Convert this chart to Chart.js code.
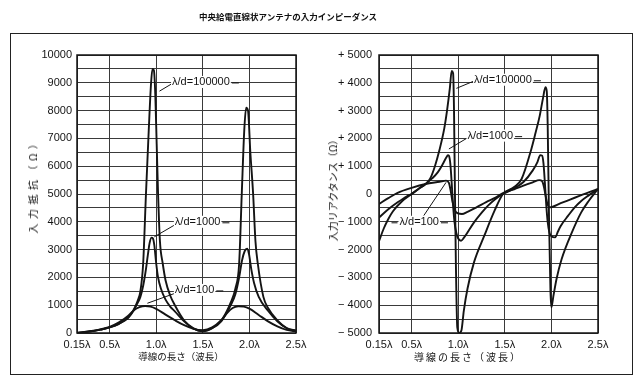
<!DOCTYPE html>
<html>
<head>
<meta charset="utf-8">
<title>中央給電直線状アンテナの入力インピーダンス</title>
<script src="https://cdn.jsdelivr.net/npm/chart.js"></script>
<style>
  body { margin: 0; background: #fff; }
  #page { position: relative; width: 640px; height: 387px; overflow: hidden; color: #111;
          font-family: 'Noto Sans CJK JP', sans-serif; }
  #frame { position: absolute; left: 10px; top: 33px; width: 623px; height: 342px;
           border: 1.5px solid #222; box-sizing: border-box; }
  canvas { position: absolute; top: 0; }
  .t { position: absolute; white-space: nowrap; line-height: 1; }
  .rot { transform: translate(-50%, -50%) rotate(-90deg); }
  .mid { transform: translate(-50%, -50%); }
</style>
</head>
<body>
<div id="page">
  <div id="frame"></div>
  <canvas id="resChart" width="320" height="387" style="left:0"></canvas>
  <canvas id="reactChart" width="320" height="387" style="left:320px"></canvas>

  <div class="t mid" style="left:288px; top:16px; font-size:8.5px; font-weight:bold;">中央給電直線状アンテナの入力インピーダンス</div>
  <div class="t rot" style="left:33px; top:184px; font-size:10px; letter-spacing:4.5px;">入力抵抗（Ω）</div>
  <div class="t rot" style="left:333px; top:188px; font-size:10px;">入力リアクタンス（Ω）</div>
  <div class="t mid" style="left:181px; top:357px; font-size:9.5px;">導線の長さ（波長）</div>
  <div class="t mid" style="left:468px; top:357px; font-size:10px; letter-spacing:2px;">導線の長さ（波長）</div>
</div>

<script>
  // x axis: wire length in wavelengths
  const lambdaTicks = [0.15, 0.5, 1.0, 1.5, 2.0, 2.5];
  const lambdaLabels = ['0.15λ', '0.5λ', '1.0λ', '1.5λ', '2.0λ', '2.5λ'];

  // left chart: input resistance (Ω)
  const resTicks = [0, 1000, 2000, 3000, 4000, 5000, 6000, 7000, 8000, 9000, 10000];
  const resLabels = ['0', '1000', '2000', '3000', '4000', '5000', '6000', '7000', '8000', '9000', '10000'];

  const res100000X = [0.15, 0.3, 0.4, 0.5, 0.6, 0.7, 0.76, 0.8, 0.83, 0.86, 0.89, 0.92, 0.945, 0.96, 0.975, 0.99, 1.005, 1.02, 1.04, 1.07, 1.1, 1.15, 1.2, 1.3, 1.4, 1.5,
                      1.6, 1.7, 1.76, 1.8, 1.85, 1.89, 1.918, 1.945, 1.965, 1.985, 2.01, 2.04, 2.065, 2.09, 2.15, 2.2, 2.3, 2.4, 2.5];
  const res100000Y = [0, 60, 120, 200, 330, 560, 850, 1150, 1500, 2500, 5000, 7300, 9000, 9500, 9450, 8600, 6800, 5000, 3300, 2500, 1900, 1350, 1000, 450, 170, 60,
                      170, 450, 800, 1100, 1600, 2500, 5000, 7300, 8100, 8000, 6500, 5000, 3300, 2500, 1300, 900, 450, 180, 80];

  const res1000X = [0.15, 0.3, 0.4, 0.5, 0.6, 0.7, 0.76, 0.8, 0.83, 0.86, 0.89, 0.91, 0.93, 0.95, 0.965, 0.98, 1.0, 1.02, 1.05, 1.1, 1.15, 1.2, 1.3, 1.4, 1.5,
                    1.6, 1.7, 1.8, 1.85, 1.89, 1.92, 1.95, 1.975, 1.995, 2.02, 2.05, 2.1, 2.2, 2.3, 2.4, 2.5];
  const res1000Y = [0, 60, 120, 200, 330, 550, 820, 1080, 1300, 1700, 2300, 2800, 3250, 3430, 3400, 3150, 2500, 2000, 1600, 1200, 950, 780, 420, 160, 70,
                    170, 430, 1000, 1400, 2000, 2600, 2950, 3030, 2850, 2300, 1800, 1300, 800, 420, 170, 80];

  const res100X = [0.15, 0.3, 0.4, 0.5, 0.6, 0.7, 0.76, 0.82, 0.88, 0.94, 1.0, 1.1, 1.2, 1.3, 1.4, 1.5,
                   1.6, 1.7, 1.76, 1.82, 1.88, 1.94, 2.0, 2.1, 2.2, 2.3, 2.4, 2.5];
  const res100Y = [0, 70, 130, 220, 380, 620, 820, 930, 970, 950, 870, 660, 460, 280, 150, 100,
                   200, 470, 720, 900, 960, 950, 880, 650, 420, 240, 110, 50];

  // right chart: input reactance (Ω)
  const reactTicks = [-5000, -4000, -3000, -2000, -1000, 0, 1000, 2000, 3000, 4000, 5000];
  const reactLabels = ['− 5000', '− 4000', '− 3000', '− 2000', '− 1000', '0', '+ 1000', '+ 2000', '+ 3000', '+ 4000', '+ 5000'];

  const react100000X = [0.15, 0.2, 0.25, 0.3, 0.4, 0.5, 0.58, 0.65, 0.7, 0.75, 0.8, 0.85, 0.88, 0.91, 0.93, 0.945, 0.955, 0.965, 0.975, 0.99, 1.01, 1.035, 1.06, 1.1, 1.17, 1.28, 1.39, 1.48,
                        1.6, 1.68, 1.785, 1.83, 1.875, 1.91, 1.936, 1.95, 1.96, 1.975, 1.99, 2.0, 2.02, 2.055, 2.11, 2.22, 2.32, 2.4, 2.5];
  const react100000Y = [-1700, -1250, -900, -620, -250, 0, 200, 360, 560, 1000, 1600, 2350, 3000, 3800, 4430, 4350, 3000, 0, -2500, -4800, -5000, -4900, -4200, -3400, -2450, -1500, -600, 0,
                        250, 540, 1620, 2200, 2820, 3450, 3840, 3700, 2500, -1000, -3500, -4080, -3700, -3060, -2340, -1380, -660, -250, 180];

  const react1000X = [0.15, 0.25, 0.35, 0.45, 0.5, 0.58, 0.65, 0.72, 0.78, 0.83, 0.87, 0.89, 0.9, 0.915, 0.93, 0.945, 0.96, 0.98, 1.0, 1.03, 1.06, 1.17, 1.25, 1.32, 1.4, 1.48,
                      1.6, 1.7, 1.8, 1.85, 1.88, 1.9, 1.915, 1.93, 1.945, 1.96, 1.98, 2.0, 2.04, 2.07, 2.1, 2.18, 2.25, 2.32, 2.4, 2.5];
  const react1000Y = [-850, -550, -300, -80, 0, 200, 360, 560, 780, 1050, 1300, 1400, 1380, 1100, 400, -400, -1000, -1400, -1600, -1680, -1580, -1020, -680, -420, -180, 0,
                      200, 430, 850, 1150, 1400, 1380, 1100, 400, -400, -1000, -1400, -1520, -1560, -1350, -1150, -780, -480, -250, -50, 180];

  const react100X = [0.15, 0.25, 0.35, 0.5, 0.65, 0.8, 0.87, 0.9, 0.92, 0.94, 0.97, 1.0, 1.04, 1.1, 1.2, 1.3, 1.4, 1.48,
                     1.6, 1.7, 1.8, 1.87, 1.9, 1.92, 1.94, 1.96, 1.98, 2.1, 2.2, 2.3, 2.4, 2.5];
  const react100Y = [-360, -150, 40, 220, 360, 440, 480, 400, 100, -300, -620, -700, -720, -640, -470, -290, -130, 30,
                     170, 300, 420, 500, 460, 250, -100, -380, -480, -330, -200, -70, 60, 180];

  // curve labels: text position and leader line, in data units (λ, Ω)
  const resNotes = [
    { text: 'λ/d=100000', tx: 1.17, ty: 9030, x1: 1.035, y1: 8700, x2: 1.165, y2: 8960, after: true },
    { text: 'λ/d=1000', tx: 1.2, ty: 4000, x1: 0.98, y1: 3460, x2: 1.195, y2: 3880, after: true },
    { text: 'λ/d=100', tx: 1.2, ty: 1550, x1: 0.905, y1: 1070, x2: 1.195, y2: 1420, after: true }
  ];
  const reactNotes = [
    { text: 'λ/d=100000', tx: 1.17, ty: 4110, x1: 0.98, y1: 3800, x2: 1.16, y2: 4050, after: true },
    { text: 'λ/d=1000', tx: 1.1, ty: 2100, x1: 0.9, y1: 1620, x2: 1.09, y2: 2000, after: true },
    { text: 'λ/d=100', tx: 0.37, ty: -1000, x1: 0.87, y1: 420, x2: 0.63, y2: -780, after: true, before: true }
  ];

  const ink = '#141414';
  const numFont = { family: "'Liberation Sans', 'Noto Sans', sans-serif", size: 11 };

  function series(xs, ys) {
    return {
      data: xs.map((x, i) => ({ x: x, y: ys[i] })),
      borderColor: ink,
      borderWidth: 1.9,
      pointRadius: 0,
      fill: false,
      cubicInterpolationMode: 'monotone'
    };
  }

  // frame round the plot area and the curve labels
  const frameAndNotes = {
    id: 'frameAndNotes',
    afterDatasetsDraw(chart, args, opts) {
      const { ctx, chartArea: a, scales } = chart;
      const px = v => scales.x.getPixelForValue(v);
      const py = v => scales.y.getPixelForValue(v);
      ctx.save();
      ctx.strokeStyle = ink;
      ctx.lineWidth = 1.5;
      ctx.strokeRect(a.left, a.top, a.right - a.left, a.bottom - a.top);

      ctx.lineWidth = 1;
      ctx.fillStyle = ink;
      ctx.font = '11px ' + numFont.family;
      ctx.textBaseline = 'middle';
      (opts.notes || []).forEach(n => {
        ctx.beginPath();
        ctx.moveTo(px(n.x1), py(n.y1));
        ctx.lineTo(px(n.x2), py(n.y2));
        ctx.stroke();
        const x = px(n.tx), y = py(n.ty);
        const w = ctx.measureText(n.text).width;
        ctx.fillStyle = '#fff';
        ctx.fillRect(x - 1, y - 6, w + 2, 12);
        ctx.fillStyle = ink;
        ctx.fillText(n.text, x, y);
        if (n.after) {
          ctx.beginPath();
          ctx.moveTo(x + w + 2, y + 1);
          ctx.lineTo(x + w + 9, y + 1);
          ctx.stroke();
        }
        if (n.before) {
          ctx.beginPath();
          ctx.moveTo(x - 8, y + 1);
          ctx.lineTo(x - 2, y + 1);
          ctx.stroke();
        }
      });
      ctx.restore();
    }
  };

  function makeChart(id, datasets, yMin, yMax, yTicks, yLabels, yWidth, rightPad, yPad, notes) {
    return new Chart(document.getElementById(id), {
      type: 'line',
      data: { datasets: datasets },
      plugins: [frameAndNotes],
      options: {
        responsive: false,
        animation: false,
        layout: { padding: { left: 0, right: rightPad, top: 55, bottom: 34 } },
        plugins: {
          legend: { display: false },
          tooltip: { enabled: false },
          frameAndNotes: { notes: notes }
        },
        scales: {
          x: {
            type: 'linear',
            min: 0.15,
            max: 2.5,
            afterBuildTicks: s => { s.ticks = lambdaTicks.map(v => ({ value: v })); },
            afterFit: s => { s.height = 20; },
            grid: { color: '#3a3a3a', lineWidth: 1, drawTicks: false },
            border: { display: false },
            ticks: {
              padding: 5,
              color: ink,
              font: numFont,
              maxRotation: 0,
              autoSkip: false,
              callback: v => {
                const i = lambdaTicks.indexOf(v);
                return i < 0 ? '' : lambdaLabels[i];
              }
            }
          },
          y: {
            type: 'linear',
            min: yMin,
            max: yMax,
            afterBuildTicks: s => {
              const t = [];
              for (let v = yMin; v <= yMax; v += 500) t.push({ value: v });
              s.ticks = t;
            },
            afterFit: s => { s.width = yWidth; },
            grid: { color: '#3a3a3a', lineWidth: 1, drawTicks: false },
            border: { display: false },
            ticks: {
              padding: yPad,
              color: ink,
              font: numFont,
              autoSkip: false,
              callback: v => {
                const i = yTicks.indexOf(v);
                return i < 0 ? '' : yLabels[i];
              }
            }
          }
        }
      }
    });
  }

  makeChart('resChart',
    [series(res100000X, res100000Y), series(res1000X, res1000Y), series(res100X, res100Y)],
    0, 10000, resTicks, resLabels, 77, 24, 5, resNotes);

  makeChart('reactChart',
    [series(react100000X, react100000Y), series(react1000X, react1000Y), series(react100X, react100Y)],
    -5000, 5000, reactTicks, reactLabels, 59, 42, 7, reactNotes);
</script>
</body>
</html>
